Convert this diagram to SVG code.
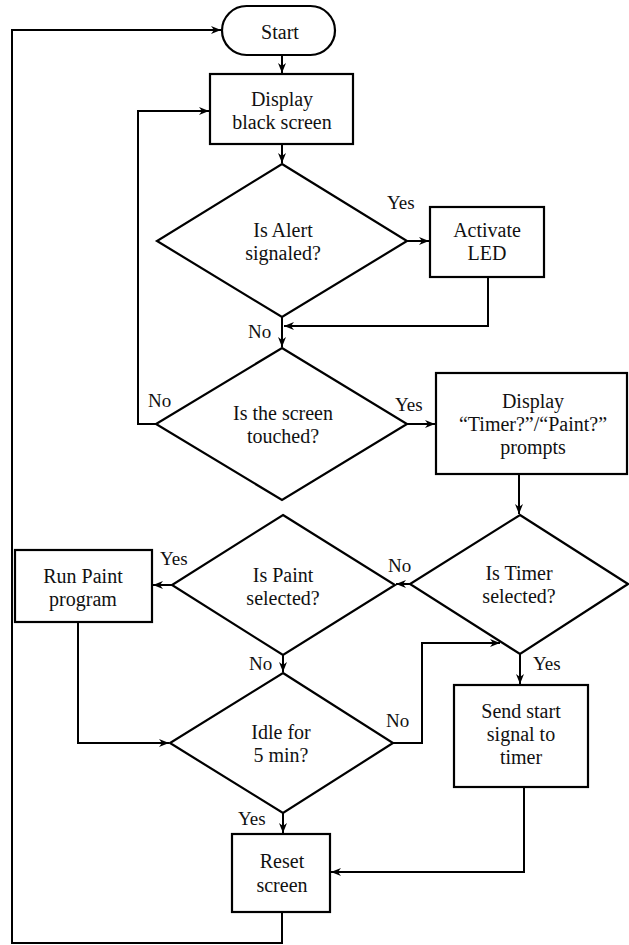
<svg xmlns="http://www.w3.org/2000/svg" width="629" height="945" viewBox="0 0 629 945" font-family="Times New Roman, Liberation Serif, serif">
<defs>
  <marker id="ah" viewBox="0 0 10 10" refX="10" refY="5" markerWidth="10" markerHeight="10" markerUnits="userSpaceOnUse" orient="auto">
    <path d="M0,1 L10,5 L0,9 L3,5 z" fill="#000"/>
  </marker>
</defs>
<rect width="629" height="945" fill="#fff"/>

<g id="connectors" fill="none" stroke="#000" stroke-width="2">
  <path d="M282,55 V73" marker-end="url(#ah)"/>
  <path d="M282,144 V163" marker-end="url(#ah)"/>
  <path d="M407,241 H429" marker-end="url(#ah)"/>
  <path d="M488,277 V326 H284" marker-end="url(#ah)"/>
  <path d="M282,317 V347" marker-end="url(#ah)"/>
  <path d="M156,424 H138 V111 H209" marker-end="url(#ah)"/>
  <path d="M407,424 H435" marker-end="url(#ah)"/>
  <path d="M519,474 V514" marker-end="url(#ah)"/>
  <path d="M410,584 H396" marker-end="url(#ah)"/>
  <path d="M172,585 H153" marker-end="url(#ah)"/>
  <path d="M283,655 V672" marker-end="url(#ah)"/>
  <path d="M78,622 V743 H169" marker-end="url(#ah)"/>
  <path d="M393,743 H422 V643 H500" marker-end="url(#ah)"/>
  <path d="M520,654 V684" marker-end="url(#ah)"/>
  <path d="M524,787 V872 H331" marker-end="url(#ah)"/>
  <path d="M283,813 V833" marker-end="url(#ah)"/>
  <path d="M282,912 V943 H12 V30 H221" marker-end="url(#ah)"/>
</g>

<g id="labels" font-size="19" fill="#111">
  <text x="387" y="209">Yes</text>
  <text x="248" y="338">No</text>
  <text x="148" y="407">No</text>
  <text x="395" y="411">Yes</text>
  <text x="388" y="572">No</text>
  <text x="160" y="565">Yes</text>
  <text x="249" y="670">No</text>
  <text x="386" y="727">No</text>
  <text x="533" y="670">Yes</text>
  <text x="238" y="825">Yes</text>
</g>

<g id="nodes" font-size="20" text-anchor="middle">
<g id="start">
  <rect fill="#fff" stroke="#000" stroke-width="2.2" x="222" y="6" width="113" height="49" rx="24.5"/>
  <text fill="#111" x="280" y="39">Start</text>
</g>

<g id="display-black">
  <rect fill="#fff" stroke="#000" stroke-width="2.2" x="210" y="74" width="143" height="70"/>
  <text fill="#111" x="282" y="106">Display</text>
  <text fill="#111" x="282" y="129">black screen</text>
</g>

<g id="alert">
  <polygon fill="#fff" stroke="#000" stroke-width="2.2" points="282,164 407,241 282,317 157,241"/>
  <text fill="#111" x="283" y="237">Is Alert</text>
  <text fill="#111" x="283" y="260">signaled?</text>
</g>

<g id="activate-led">
  <rect fill="#fff" stroke="#000" stroke-width="2.2" x="430" y="207" width="114" height="70"/>
  <text fill="#111" x="487" y="237">Activate</text>
  <text fill="#111" x="487" y="260">LED</text>
</g>

<g id="touched">
  <polygon fill="#fff" stroke="#000" stroke-width="2.2" points="282,348 407,424 282,500 156,424"/>
  <text fill="#111" x="283" y="420">Is the screen</text>
  <text fill="#111" x="283" y="443">touched?</text>
</g>

<g id="prompts">
  <rect fill="#fff" stroke="#000" stroke-width="2.2" x="436" y="373" width="191" height="101"/>
  <text fill="#111" x="533" y="408">Display</text>
  <text fill="#111" x="533" y="431">“Timer?”/“Paint?”</text>
  <text fill="#111" x="533" y="454">prompts</text>
</g>

<g id="timer">
  <polygon fill="#fff" stroke="#000" stroke-width="2.2" points="520,515 628,584 520,654 410,584"/>
  <text fill="#111" x="519" y="580">Is Timer</text>
  <text fill="#111" x="519" y="603">selected?</text>
</g>

<g id="paint">
  <polygon fill="#fff" stroke="#000" stroke-width="2.2" points="283,515 395,585 283,655 172,585"/>
  <text fill="#111" x="283" y="582">Is Paint</text>
  <text fill="#111" x="283" y="605">selected?</text>
</g>

<g id="run-paint">
  <rect fill="#fff" stroke="#000" stroke-width="2.2" x="15" y="550" width="137" height="72"/>
  <text fill="#111" x="83" y="583">Run Paint</text>
  <text fill="#111" x="83" y="606">program</text>
</g>

<g id="idle">
  <polygon fill="#fff" stroke="#000" stroke-width="2.2" points="283,673 393,743 283,813 170,743"/>
  <text fill="#111" x="281" y="739">Idle for</text>
  <text fill="#111" x="281" y="762">5 min?</text>
</g>

<g id="send-start">
  <rect fill="#fff" stroke="#000" stroke-width="2.2" x="454" y="685" width="134" height="102"/>
  <text fill="#111" x="521" y="718">Send start</text>
  <text fill="#111" x="521" y="741">signal to</text>
  <text fill="#111" x="521" y="764">timer</text>
</g>

<g id="reset">
  <rect fill="#fff" stroke="#000" stroke-width="2.2" x="232" y="834" width="98" height="78"/>
  <text fill="#111" x="282" y="868">Reset</text>
  <text fill="#111" x="282" y="892">screen</text>
</g>
</g>
</svg>
